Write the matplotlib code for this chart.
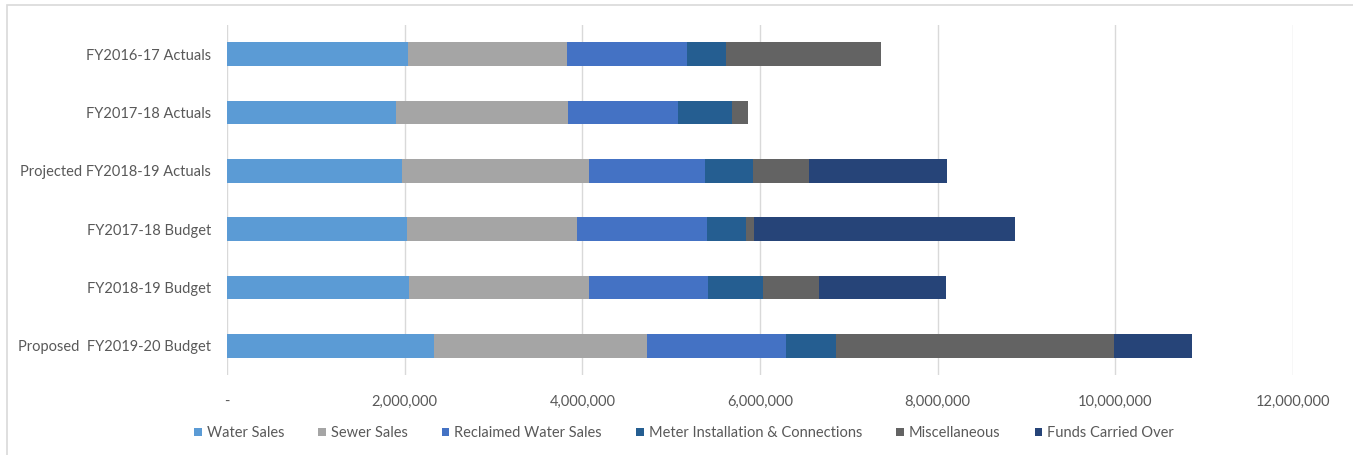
import matplotlib
matplotlib.use("Agg")
import matplotlib.pyplot as plt
from matplotlib.patches import Rectangle
from matplotlib.ticker import FuncFormatter, MultipleLocator
import numpy as np

plt.rcParams['font.family'] = ['Lato', 'DejaVu Sans']

categories = [
    "FY2016-17 Actuals",
    "FY2017-18 Actuals",
    "Projected FY2018-19 Actuals",
    "FY2017-18 Budget",
    "FY2018-19 Budget",
    "Proposed  FY2019-20 Budget",
]

water_sales = [2035000, 1899000, 1967000, 2022000, 2045000, 2325000]
sewer_sales = [1788000, 1940000, 2112000, 1916000, 2025000, 2405000]
reclaimed_water_sales = [1358000, 1236000, 1304000, 1464000, 1342000, 1565000]
meter_installation = [431000, 612000, 537000, 439000, 624000, 559000]
miscellaneous = [1749000, 177000, 635000, 86000, 625000, 3130000]
funds_carried_over = [0, 0, 1550000, 2946000, 1436000, 883000]

series = [
    ("Water Sales", water_sales, "#5B9BD5"),
    ("Sewer Sales", sewer_sales, "#A5A5A5"),
    ("Reclaimed Water Sales", reclaimed_water_sales, "#4472C4"),
    ("Meter Installation & Connections", meter_installation, "#255E91"),
    ("Miscellaneous", miscellaneous, "#636363"),
    ("Funds Carried Over", funds_carried_over, "#264478"),
]

W, H = 1353, 455
fig = plt.figure(figsize=(W / 100, H / 100), dpi=100)

# light chart-area border
fig.patches.append(Rectangle((7 / W, -0.1), 1.2, 1 - 5 / H + 0.1,
                             transform=fig.transFigure, fill=False,
                             edgecolor="#D9D9D9", linewidth=1.2))

ax = fig.add_axes([227 / W, 1 - 375 / H, (1293 - 227) / W, (375 - 25) / H])

y = np.arange(len(categories))
left = np.zeros(len(categories))
for name, vals, color in series:
    vals = np.array(vals, dtype=float)
    ax.barh(y, vals, left=left, height=0.41, color=color, label=name,
            zorder=3)
    left += vals

ax.set_ylim(len(categories) - 0.5, -0.5)
ax.set_yticks(y)
ax.set_yticklabels(categories)
ax.set_xlim(0, 12000000)
ax.xaxis.set_major_locator(MultipleLocator(2000000))
ax.xaxis.set_major_formatter(FuncFormatter(
    lambda v, p: "-" if v == 0 else f"{int(v):,}"))

ax.grid(axis="x", color="#D9D9D9", linewidth=1.0, zorder=0)
for s in ax.spines.values():
    s.set_visible(False)
ax.tick_params(axis="both", length=0, colors="#595959", labelsize=10.5)
ax.tick_params(axis="x", pad=14)
ax.tick_params(axis="y", pad=11.5)

handles, labels = ax.get_legend_handles_labels()
leg = fig.legend(handles, labels, loc="center", ncol=6,
                 bbox_to_anchor=(684 / W, 1 - 433 / H), frameon=False,
                 handlelength=0.5, handleheight=0.5, handletextpad=0.35,
                 columnspacing=2.35, fontsize=10.5)
for t in leg.get_texts():
    t.set_color("#595959")

fig.savefig("out.png", dpi=100, facecolor="white")
